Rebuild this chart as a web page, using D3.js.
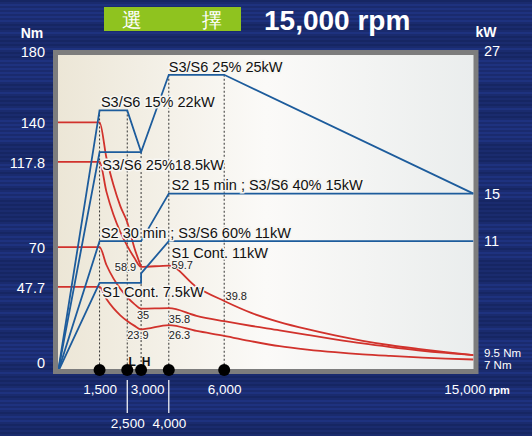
<!DOCTYPE html>
<html>
<head>
<meta charset="utf-8">
<script src="https://cdn.jsdelivr.net/npm/d3@7"></script>
<style>
body { margin: 0; background: #1a2b6e; }
text { font-family: "Liberation Sans", Arial, sans-serif; }
</style>
</head>
<body>
<svg id="chart" width="532" height="436"></svg>
<script>
// speed marks on the x axis
const rpmMarks = [1500, 2500, 3000, 4000, 6000];
const rpmMarkTopKw = [22, 22, 18.5, 25, 25];
const rpmLabelsUpper = [1500, 3000, 6000, 15000];
const rpmLabelsLower = [2500, 4000];
const windingMarks = [["L", 2500], ["H", 3000]];

// axis ticks
const nmTicks = [0, 47.7, 70, 117.8, 140, 180];
const kwTicks = [27, 15, 11];
const nmEndLabels = [["9.5 Nm", 9.5], ["7 Nm", 7]];

// power lines (rpm, kW)
const powerMax = [[0, 0], [1500, 22], [2500, 22], [3000, 18.5], [4000, 25], [6000, 25], [15000, 15]];
const power185 = [[0, 0], [1500, 18.5], [3000, 18.5]];
const power11 = [[0, 0], [1500, 11], [3000, 11], [4000, 15], [15000, 15]];
const power75 = [[0, 0], [1500, 7.5], [3000, 7.5], [3000, 8.3], [4000, 11], [15000, 11]];

// torque curves (rpm, Nm)
const torque140 = [[0, 140], [1500, 140], [1750, 120], [2000, 105], [2250, 93], [2500, 84], [2750, 70], [3000, 59]];
const torque1178 = [[0, 117.8], [1500, 117.8], [1750, 101], [2000, 88.3], [2250, 78.5], [2500, 70.7], [2750, 64.2], [3000, 58.9],
  [4000, 59.7], [5000, 47.7], [6000, 39.8], [7000, 33], [8000, 28], [9000, 24], [10000, 20.5], [11000, 17.5],
  [12000, 15], [13000, 13], [14000, 11.2], [15000, 9.5]];
const torque70 = [[0, 70], [1500, 70], [1750, 60], [2000, 52.5], [2250, 46.7], [2500, 42], [2750, 38.2], [3000, 35.5],
  [4000, 35.8], [5000, 31.5], [6000, 28.5], [7000, 25.8], [8000, 23.4], [9000, 20.8], [10000, 18.3], [11000, 16],
  [12000, 14], [13000, 12.2], [14000, 10.7], [15000, 9.5]];
const torque477 = [[0, 47.7], [1500, 47.7], [1750, 40.9], [2000, 35.8], [2250, 31.8], [2500, 28.6], [2750, 26], [3000, 23.9],
  [4000, 26.3], [5000, 23], [6000, 20.3], [7000, 17.2], [8000, 14.5], [9000, 12.6], [10000, 11.1], [11000, 9.9],
  [12000, 9], [13000, 8.2], [14000, 7.5], [15000, 7]];

// rating labels, anchored in (rpm, kW)
const ratingLabels = [
  ["S3/S6 25% 25kW", 4000, 25.2],
  ["S3/S6 15% 22kW", 1550, 22.3],
  ["S3/S6 25%18.5kW", 1600, 17],
  ["S2 15 min ; S3/S6 40% 15kW", 4100, 15.3],
  ["S2 30 min ; S3/S6 60% 11kW", 1550, 11.3],
  ["S1 Cont. 11kW", 4100, 9.6],
  ["S1 Cont. 7.5kW", 1600, 6.3]
];
// torque values, anchored in (rpm, Nm)
const torqueLabels = [
  ["58.9", 2050, 56.5],
  ["59.7", 4100, 57.5],
  ["39.8", 6050, 40.5],
  ["35", 2850, 29.8],
  ["35.8", 4000, 27.7],
  ["23.9", 2500, 18.5],
  ["26.3", 4000, 18.5]
];

const svg = d3.select("#chart");
const width = 532, height = 436;
const plotLeft = 58, plotRight = 473.5, plotTop = 55, plotBottom = 369;

const x = d3.scaleLinear().domain([0, 15000]).range([plotLeft, plotRight]);
const yNm = d3.scaleLinear().domain([0, 180]).range([372, 51]);
const yKw = d3.scaleLinear().domain([0, 27]).range([372, 51]);

const defs = svg.append("defs");
const grad = defs.append("linearGradient").attr("id", "plotBg");
grad.append("stop").attr("offset", "0%").attr("stop-color", "#ece6d6");
grad.append("stop").attr("offset", "50%").attr("stop-color", "#fbfaf8");
grad.append("stop").attr("offset", "100%").attr("stop-color", "#eaeded");
defs.append("clipPath").attr("id", "plotClip")
  .append("rect").attr("x", plotLeft).attr("y", plotTop)
  .attr("width", plotRight - plotLeft).attr("height", plotBottom - plotTop);

// striped navy background
svg.append("rect").attr("width", width).attr("height", height).attr("fill", "#1a2b6e");
svg.append("g").selectAll("rect")
  .data(d3.range(0, height, 4))
  .join("rect")
  .attr("x", 0).attr("y", d => d).attr("width", width).attr("height", 2)
  .attr("fill", (d, i) => (Math.sin(i * 1.7) + Math.sin(i * 0.45)) > 0 ? "#21378a" : "#14235c")
  .attr("opacity", 0.6);

// plot frame
svg.append("rect")
  .attr("x", plotLeft - 2.5).attr("y", plotTop - 2.5)
  .attr("width", plotRight - plotLeft + 5).attr("height", plotBottom - plotTop + 5)
  .attr("fill", "url(#plotBg)").attr("stroke", "#7d7d7d").attr("stroke-width", 5);

const plot = svg.append("g").attr("clip-path", "url(#plotClip)");

// dashed speed markers
const topKwByRpm = new Map(rpmMarks.map((r, i) => [r, rpmMarkTopKw[i]]));
plot.selectAll(".mark")
  .data(rpmMarks)
  .join("line")
  .attr("x1", d => x(d)).attr("x2", d => x(d))
  .attr("y1", d => yKw(topKwByRpm.get(d))).attr("y2", plotBottom)
  .attr("stroke", "#333").attr("stroke-width", 1).attr("stroke-dasharray", "2,2");

const lineKw = d3.line().x(d => x(d[0])).y(d => yKw(d[1]));
const lineNm = d3.line().x(d => x(d[0])).y(d => yNm(d[1])).curve(d3.curveMonotoneX);

[torque140, torque1178, torque70, torque477].forEach(t => {
  plot.append("path").datum(t)
    .attr("fill", "none").attr("stroke", "#d1322c").attr("stroke-width", 1.8)
    .attr("d", lineNm);
});

[powerMax, power185, power11, power75].forEach(p => {
  plot.append("path").datum(p)
    .attr("fill", "none").attr("stroke", "#1d5c9c").attr("stroke-width", 1.8)
    .attr("d", lineKw);
});

// rating labels with light halo
svg.append("g").selectAll("text")
  .data(ratingLabels)
  .join("text")
  .attr("x", d => x(d[1])).attr("y", d => yKw(d[2]))
  .attr("font-size", 14.5).attr("fill", "#111")
  .attr("stroke", "#f7f6f2").attr("stroke-width", 3).attr("paint-order", "stroke")
  .text(d => d[0]);

svg.append("g").selectAll("text")
  .data(torqueLabels)
  .join("text")
  .attr("x", d => x(d[1])).attr("y", d => yNm(d[2]))
  .attr("font-size", 11).attr("fill", "#222")
  .attr("stroke", "#f7f6f2").attr("stroke-width", 2).attr("paint-order", "stroke")
  .text(d => d[0]);

// L / H winding marks
svg.append("g").selectAll("text")
  .data(windingMarks)
  .join("text")
  .attr("x", d => x(d[1]) + 5).attr("y", 366)
  .attr("text-anchor", "middle").attr("font-size", 12).attr("font-weight", "bold").attr("fill", "#111")
  .text(d => d[0]);

// dots on the speed axis
svg.append("g").selectAll("circle")
  .data(rpmMarks)
  .join("circle")
  .attr("cx", d => x(d)).attr("cy", 370).attr("r", 6)
  .attr("fill", "#000");

// left axis (Nm)
const axisL = svg.append("g")
  .attr("transform", "translate(45,0)")
  .call(d3.axisLeft(yNm).tickValues(nmTicks).tickSize(0).tickPadding(0).tickFormat(d => d));
axisL.select(".domain").remove();
axisL.selectAll("text").attr("fill", "#fff").attr("font-size", 14.5)
  .attr("font-family", "Liberation Sans, Arial, sans-serif")
  .attr("dy", d => d === 0 ? "-0.3em" : "0.35em");

// right axis (kW)
const axisR = svg.append("g")
  .attr("transform", "translate(484,0)")
  .call(d3.axisRight(yKw).tickValues(kwTicks).tickSize(0).tickPadding(0));
axisR.select(".domain").remove();
axisR.selectAll("text").attr("fill", "#fff").attr("font-size", 14.5)
  .attr("font-family", "Liberation Sans, Arial, sans-serif");

svg.append("g").selectAll("text")
  .data(nmEndLabels)
  .join("text")
  .attr("x", 484).attr("y", (d, i) => yNm(d[1]) + (i ? 9 : 2))
  .attr("font-size", 11.5).attr("fill", "#fff")
  .text(d => d[0]);

// unit titles
svg.append("text").attr("x", 32).attr("y", 38).attr("text-anchor", "middle")
  .attr("font-size", 14).attr("font-weight", "bold").attr("fill", "#fff").text("Nm");
svg.append("text").attr("x", 486).attr("y", 37).attr("text-anchor", "middle")
  .attr("font-size", 14).attr("font-weight", "bold").attr("fill", "#fff").text("kW");

// bottom speed labels
const fmt = d3.format(",");
const axisB = svg.append("g")
  .attr("transform", "translate(0,384)")
  .call(d3.axisBottom(x).tickValues(rpmLabelsUpper).tickSize(0).tickPadding(0).tickFormat(fmt));
axisB.select(".domain").remove();
axisB.selectAll("text").attr("fill", "#fff").attr("font-size", 13.5)
  .attr("font-family", "Liberation Sans, Arial, sans-serif")
  .attr("dx", d => d === 3000 ? 6 : (d === 15000 ? -9 : 0));

const axisB2 = svg.append("g")
  .attr("transform", "translate(0,418)")
  .call(d3.axisBottom(x).tickValues(rpmLabelsLower).tickSize(0).tickPadding(0).tickFormat(fmt));
axisB2.select(".domain").remove();
axisB2.selectAll("text").attr("fill", "#fff").attr("font-size", 13.5)
  .attr("font-family", "Liberation Sans, Arial, sans-serif");
svg.append("g").selectAll("line")
  .data(rpmLabelsLower)
  .join("line")
  .attr("x1", d => x(d)).attr("x2", d => x(d)).attr("y1", 380).attr("y2", 413)
  .attr("stroke", "#fff").attr("stroke-width", 1.2);

svg.append("text").attr("x", 489).attr("y", 394)
  .attr("font-size", 11).attr("font-weight", "bold").attr("fill", "#fff").text("rpm");

// title
svg.append("rect").attr("x", 104).attr("y", 7).attr("width", 137).attr("height", 24).attr("fill", "#8fc31f");
svg.append("text").attr("x", 132).attr("y", 27).attr("text-anchor", "middle")
  .attr("font-family", "Noto Sans CJK TC").attr("font-size", 20).attr("fill", "#fff").text("選");
svg.append("text").attr("x", 212).attr("y", 27).attr("text-anchor", "middle")
  .attr("font-family", "Noto Sans CJK TC").attr("font-size", 20).attr("fill", "#fff").text("擇");
svg.append("text").attr("x", 264).attr("y", 30)
  .attr("font-size", 28).attr("font-weight", "bold").attr("fill", "#fff").text("15,000 rpm");
</script>
</body>
</html>
